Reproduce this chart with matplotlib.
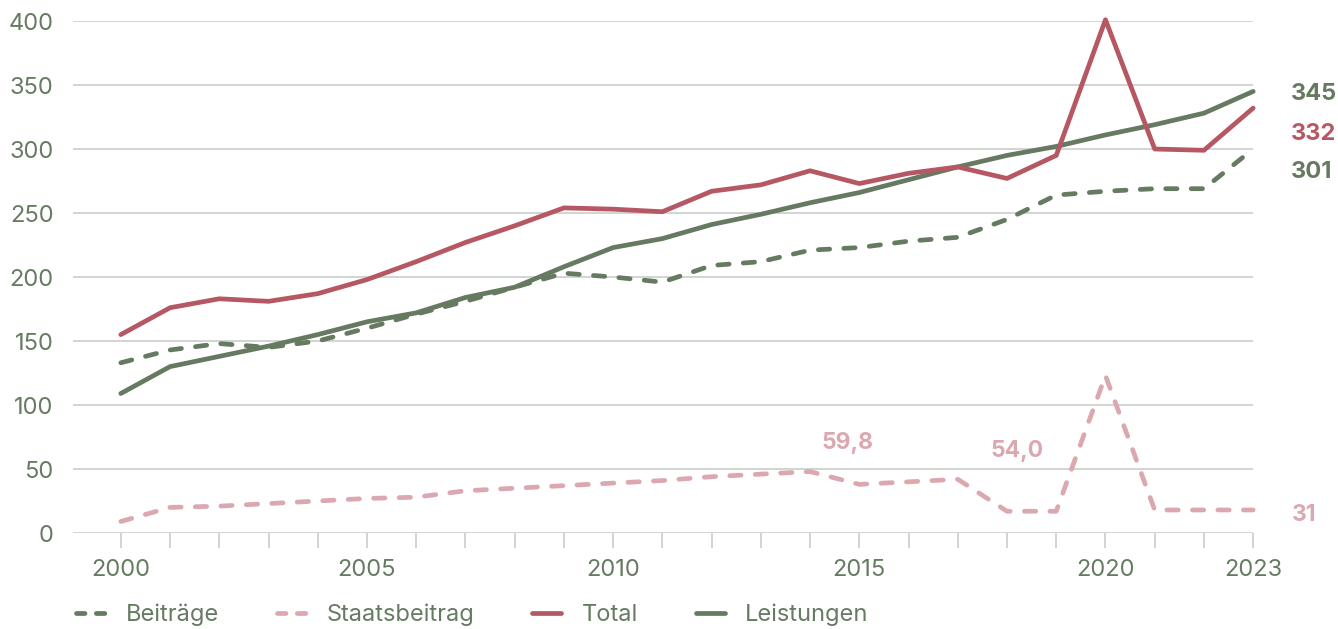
import numpy as np
import matplotlib.pyplot as plt
from matplotlib.lines import Line2D

years = np.arange(2000, 2024)

total = [155, 176, 183, 181, 187, 198, 212, 227, 240, 254, 253, 251,
         267, 272, 283, 273, 281, 286, 277, 295, 401, 300, 299, 332]
leistungen = [109, 130, 138, 146, 155, 165, 172, 184, 192, 208, 223, 230,
              241, 249, 258, 266, 276, 286, 295, 302, 311, 319, 328, 345]
beitraege = [133, 143, 148, 145, 150, 160, 171, 181, 192, 203, 200, 196,
             209, 212, 221, 223, 228, 231, 245, 264, 267, 269, 269, 300]
staatsbeitrag = [9, 20, 21, 23, 25, 27, 28, 33, 35, 37, 39, 41,
                 44, 46, 48, 38, 40, 42, 17, 17, 123, 18, 18, 18]

xtick_labels = ['2000', '2005', '2010', '2015', '2020', '2023']
end_labels = ['345', '332', '301']

GREEN = '#657a60'
RED = '#b65864'
PINK = '#dba8b0'
GRID = '#c9cec9'
TXT = '#667c62'

plt.rcParams['font.family'] = ['Inter', 'DejaVu Sans']

fig = plt.figure(figsize=(13.38, 6.29), dpi=100)
ax = fig.add_axes([0.0546, 0.1526, 0.882, 0.814])

dash = (2.4, 3.0)
lw = 3.4
ax.plot(years, staatsbeitrag, color=PINK, lw=lw, dashes=dash,
        dash_capstyle='round', clip_on=False, zorder=3)
ax.plot(years, beitraege, color=GREEN, lw=lw, dashes=dash,
        dash_capstyle='round', clip_on=False, zorder=3)
ax.plot(years, leistungen, color=GREEN, lw=lw, solid_capstyle='round',
        clip_on=False, zorder=4)
ax.plot(years, total, color=RED, lw=lw, solid_capstyle='round',
        clip_on=False, zorder=5)

ax.set_xlim(1999.03, 2023)
ax.set_ylim(0, 400)
ax.set_yticks(np.arange(0, 401, 50))
ax.yaxis.grid(True, color=GRID, lw=1.2)
ax.set_axisbelow(True)
for s in ax.spines.values():
    s.set_visible(False)

ax.set_xticks(years)
ax.set_xticklabels([str(y) if str(y) in xtick_labels else '' for y in years])
ax.tick_params(axis='x', length=11, width=1.2, color=GRID, pad=8,
               labelsize=17, labelcolor=TXT)
ax.tick_params(axis='y', length=0, pad=14, labelsize=17, labelcolor=TXT)

# end value labels
yt = ax.get_yaxis_transform()
ax.text(1.032, 343, end_labels[0], transform=yt, color=GREEN,
        fontsize=17, fontweight='bold', va='center', ha='left')
ax.text(1.032, 311.5, end_labels[1], transform=yt, color=RED,
        fontsize=17, fontweight='bold', va='center', ha='left')
ax.text(1.032, 282, end_labels[2], transform=yt, color=GREEN,
        fontsize=17, fontweight='bold', va='center', ha='left')

# Staatsbeitrag annotations
ax.text(2014.76, 70.3, '59,8', color=PINK, fontsize=16.5, fontweight='bold',
        ha='center', va='center')
ax.text(2018.21, 64, '54,0', color=PINK, fontsize=16.5, fontweight='bold',
        ha='center', va='center')
ax.text(2024.04, 14, '31', color=PINK, fontsize=16.5, fontweight='bold',
        ha='center', va='center', clip_on=False)

leg_dash = (1.8, 2.4)
handles = [
    Line2D([], [], color=GREEN, lw=lw, dashes=leg_dash, dash_capstyle='round'),
    Line2D([], [], color=PINK, lw=lw, dashes=leg_dash, dash_capstyle='round'),
    Line2D([], [], color=RED, lw=lw, solid_capstyle='round'),
    Line2D([], [], color=GREEN, lw=lw, solid_capstyle='round'),
]
leg = fig.legend(handles, ['Beiträge', 'Staatsbeitrag', 'Total', 'Leistungen'],
                 loc='center left', bbox_to_anchor=(0.041, 0.022), ncol=4,
                 frameon=False, fontsize=17, handlelength=1.25,
                 handletextpad=0.85, columnspacing=2.45, labelcolor=TXT)

fig.savefig('out.png', dpi=100)
